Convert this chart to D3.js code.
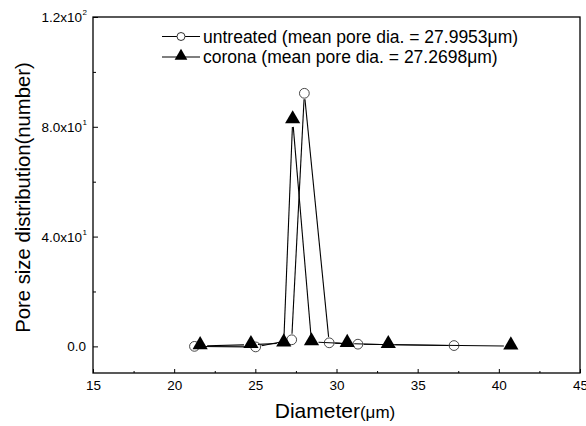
<!DOCTYPE html>
<html>
<head>
<meta charset="utf-8">
<script src="https://cdn.jsdelivr.net/npm/d3@7"></script>
<style>
  body { margin: 0; background: #fff; }
  text { font-family: "Liberation Sans", Arial, sans-serif; fill: #000; }
</style>
</head>
<body>
<svg id="chart" width="586" height="426"></svg>
<script>
// data
var untreatedX = [21.25, 25.02, 27.24, 28.02, 29.55, 31.32, 37.24];
var untreatedY = [0.0, -0.2, 2.4, 92.2, 1.3, 0.8, 0.3];
var coronaX = [21.6, 24.73, 26.75, 27.3, 28.46, 30.66, 33.19, 40.74];
var coronaY = [0.2, 0.6, 1.2, 82.5, 1.6, 1.0, 0.6, 0.1];
var xTicks = [15, 20, 25, 30, 35, 40, 45];
var yTicks = [0, 40, 80, 120];
var yTickMant = ["0.0", "4.0x10", "8.0x10", "1.2x10"];
var yTickExp = ["", "1", "1", "2"];
var legendNames = ["untreated (mean pore dia. = 27.9953\u03bcm)", "corona (mean pore dia. = 27.2698\u03bcm)"];

function drawChart() {
  var svg = d3.select("#chart");
  var mLeft = 93, mRight = 580, mTop = 17, mBottom = 373;

  var x = d3.scaleLinear().domain([15, 45]).range([mLeft, mRight]);
  var y = d3.scaleLinear().domain([-9.7, 120]).range([mBottom, mTop]);

  // minor ticks
  var xMinor = d3.range(17.5, 45, 5);
  var yMinor = [20, 60, 100];

  svg.append("g")
    .attr("transform", "translate(0," + mBottom + ")")
    .call(d3.axisBottom(x).tickValues(xMinor).tickSize(-2).tickFormat(""))
    .call(function(g) { g.select(".domain").remove(); });

  svg.append("g")
    .attr("transform", "translate(" + mLeft + ",0)")
    .call(d3.axisLeft(y).tickValues(yMinor).tickSize(-3).tickFormat(""))
    .call(function(g) { g.select(".domain").remove(); });

  var xAxis = svg.append("g")
    .attr("transform", "translate(0," + mBottom + ")")
    .call(d3.axisBottom(x).tickValues(xTicks).tickSize(-4).tickPadding(7).tickFormat(d3.format("d")));
  xAxis.select(".domain").remove();
  xAxis.attr("font-size", null).attr("font-family", null);
  xAxis.selectAll("text").style("font-size", "13.5px");

  var yAxis = svg.append("g")
    .attr("transform", "translate(" + mLeft + ",0)")
    .call(d3.axisLeft(y).tickValues(yTicks).tickSize(-5).tickFormat(""));
  yAxis.select(".domain").remove();

  // y tick labels with superscripts
  yTicks.forEach(function(v, i) {
    svg.append("text")
      .attr("x", yTickExp[i] ? 82 : 86)
      .attr("y", y(v) + 5)
      .attr("text-anchor", "end")
      .style("font-size", "13.5px")
      .text(yTickMant[i]);
    if (yTickExp[i]) {
      svg.append("text")
        .attr("x", 82.5)
        .attr("y", y(v) - 2)
        .style("font-size", "8px")
        .text(yTickExp[i]);
    }
  });

  svg.selectAll(".tick line").attr("stroke", "#000").attr("stroke-width", 1);

  // frame
  svg.append("rect")
    .attr("x", mLeft).attr("y", mTop)
    .attr("width", mRight - mLeft).attr("height", mBottom - mTop)
    .attr("fill", "none").attr("stroke", "#000").attr("stroke-width", 1.3);

  // axis titles
  svg.append("text")
    .attr("transform", "translate(30,197.5) rotate(-90)")
    .attr("text-anchor", "middle")
    .style("font-size", "20.3px")
    .text("Pore size distribution(number)");

  var xl = svg.append("text")
    .attr("x", 335)
    .attr("y", 418)
    .attr("text-anchor", "middle")
    .style("font-size", "21px");
  xl.append("tspan").text("Diameter");
  xl.append("tspan").style("font-size", "17px").text("(\u03bcm)");

  // series lines, trimmed near markers like the original plot
  function trimmedSegments(xs, ys, gap) {
    var segs = [];
    for (var i = 0; i < xs.length - 1; i++) {
      var x1 = x(xs[i]), y1 = y(ys[i]), x2 = x(xs[i + 1]), y2 = y(ys[i + 1]);
      var dx = x2 - x1, dy = y2 - y1, len = Math.sqrt(dx * dx + dy * dy);
      if (len <= 2 * gap) continue;
      var ux = dx / len, uy = dy / len;
      segs.push([[x1 + ux * gap, y1 + uy * gap], [x2 - ux * gap, y2 - uy * gap]]);
    }
    return segs;
  }

  var line = d3.line();

  svg.append("g").selectAll("path")
    .data(trimmedSegments(untreatedX, untreatedY, 6))
    .enter().append("path")
    .attr("d", line)
    .attr("fill", "none").attr("stroke", "#000").attr("stroke-width", 1.1);

  svg.append("g").selectAll("path")
    .data(trimmedSegments(coronaX, coronaY, 7))
    .enter().append("path")
    .attr("d", line)
    .attr("fill", "none").attr("stroke", "#000").attr("stroke-width", 1.1);

  var circleSym = d3.symbol().type(d3.symbolCircle).size(75);
  var triSym = d3.symbol().type(d3.symbolTriangle).size(100);

  svg.append("g").selectAll("path")
    .data(untreatedX.map(function(d, i) { return [d, untreatedY[i]]; }))
    .enter().append("path")
    .attr("d", circleSym)
    .attr("transform", function(d) { return "translate(" + x(d[0]) + "," + y(d[1]) + ")"; })
    .attr("fill", "none").attr("stroke", "#333").attr("stroke-width", 0.9);

  svg.append("g").selectAll("path")
    .data(coronaX.map(function(d, i) { return [d, coronaY[i]]; }))
    .enter().append("path")
    .attr("d", triSym)
    .attr("transform", function(d) { return "translate(" + x(d[0]) + "," + (y(d[1]) - 1) + ")"; })
    .attr("fill", "#000");

  // legend
  var legend = svg.append("g");
  var rows = [36.5, 57];
  rows.forEach(function(ry, i) {
    legend.append("line")
      .attr("x1", 162).attr("x2", 200)
      .attr("y1", ry).attr("y2", ry)
      .attr("stroke", "#000").attr("stroke-width", 1.1);
    legend.append("path")
      .attr("d", i === 0 ? d3.symbol().type(d3.symbolCircle).size(50)() : d3.symbol().type(d3.symbolTriangle).size(70)())
      .attr("transform", "translate(181," + (i === 0 ? ry : ry - 1) + ")")
      .attr("fill", i === 0 ? "#fff" : "#000")
      .attr("stroke", i === 0 ? "#333" : "none");
    legend.append("text")
      .attr("x", 203)
      .attr("y", ry + 6)
      .style("font-size", "17.5px")
      .text(legendNames[i]);
  });
}

drawChart();
</script>
</body>
</html>
